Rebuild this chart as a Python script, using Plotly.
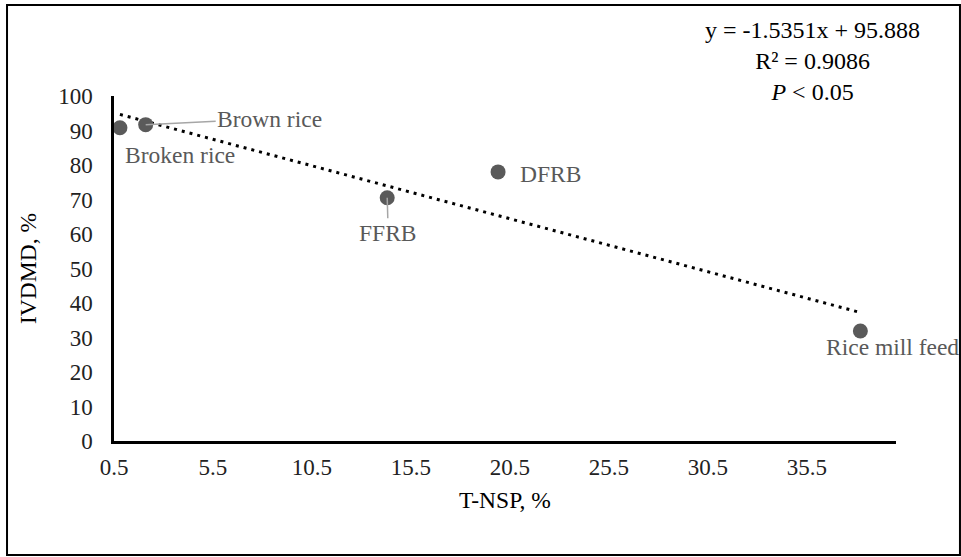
import plotly.graph_objects as go

# ---- data ----
feeds = ["Broken rice", "Brown rice", "FFRB", "DFRB", "Rice mill feed"]
t_nsp = [0.8, 2.1, 14.3, 19.9, 38.2]          # T-NSP, %
ivdmd = [90.8, 91.7, 70.5, 78.0, 31.9]        # IVDMD, %
slope = -1.5351
intercept = 95.888
r_squared = 0.9086
x_tick_vals = [0.5, 5.5, 10.5, 15.5, 20.5, 25.5, 30.5, 35.5]
y_tick_vals = [0, 10, 20, 30, 40, 50, 60, 70, 80, 90, 100]

FONT = "Liberation Serif"
DOT = "#5a5a5a"
LABEL = "#595959"

fig = go.Figure()

# trend line (from the fitted equation, spanning the data range)
x_lo, x_hi = min(t_nsp), max(t_nsp)
fig.add_trace(go.Scatter(
    x=[x_lo, x_hi],
    y=[slope * x_lo + intercept, slope * x_hi + intercept],
    mode="lines",
    line=dict(color="black", width=3, dash="3px,5px"),
    hoverinfo="skip", showlegend=False,
))

fig.add_trace(go.Scatter(
    x=t_nsp, y=ivdmd, mode="markers",
    marker=dict(size=15, color=DOT),
    text=feeds, showlegend=False,
))

# data labels
label_pos = {
    "Broken rice": dict(showarrow=False, xshift=60, yshift=-27),
    "Brown rice": dict(showarrow=True, ax=124, ay=-6),
    "FFRB": dict(showarrow=True, ax=1, ay=35),
    "DFRB": dict(showarrow=False, xshift=52, yshift=-2),
    "Rice mill feed": dict(showarrow=False, xshift=32, yshift=-16),
}
for name, xv, yv in zip(feeds, t_nsp, ivdmd):
    opts = label_pos[name]
    ann = dict(x=xv, y=yv, xref="x", yref="y", text=name,
               font=dict(family=FONT, size=23.5, color=LABEL))
    if opts.get("showarrow"):
        ann.update(showarrow=True, ax=opts["ax"], ay=opts["ay"],
                   axref="pixel", ayref="pixel",
                   arrowhead=0, arrowwidth=1.5, arrowcolor="#a6a6a6",
                   standoff=0, startstandoff=0)
    else:
        ann.update(showarrow=False, xshift=opts["xshift"], yshift=opts["yshift"])
    fig.add_annotation(**ann)

# equation text
fig.add_annotation(
    x=0.8926, y=1.1, xref="paper", yref="paper",
    text=f"y = {slope}x + {intercept}<br>R² = {r_squared}<br><i>P</i> < 0.05",
    showarrow=False, align="center", xanchor="center", yanchor="middle",
    font=dict(family=FONT, size=24, color="black"),
)

# outer border
fig.add_shape(type="rect", xref="paper", yref="paper",
              x0=-0.1368, x1=1.0818, y0=-0.3304, y1=1.2638,
              line=dict(color="black", width=2), layer="above")

fig.update_xaxes(
    range=[0.5, 40], tickvals=x_tick_vals, ticktext=[str(v) for v in x_tick_vals],
    showline=True, linecolor="black", linewidth=2.5, showgrid=False, zeroline=False,
    ticks="", tickfont=dict(family=FONT, size=23, color="#222222"),
    ticklabelstandoff=4,
    title=dict(text="T-NSP, %", font=dict(family=FONT, size=23.5, color="black"), standoff=13),
)
fig.update_yaxes(
    range=[0, 100], tickvals=y_tick_vals,
    showline=True, linecolor="black", linewidth=2.5, showgrid=False, zeroline=False,
    ticks="", tickfont=dict(family=FONT, size=23, color="#222222"),
    ticklabelstandoff=14,
    title=dict(text="IVDMD, %", font=dict(family=FONT, size=23.5, color="black"), standoff=15),
)

fig.update_layout(
    width=961, height=557,
    margin=dict(l=114, r=65, t=96, b=116),
    paper_bgcolor="white", plot_bgcolor="white",
    font=dict(family=FONT),
)

fig.write_html(
    "out.html",
    config={"displayModeBar": False},
    post_script="document.body.style.margin='0';document.body.style.overflow='hidden';",
)
